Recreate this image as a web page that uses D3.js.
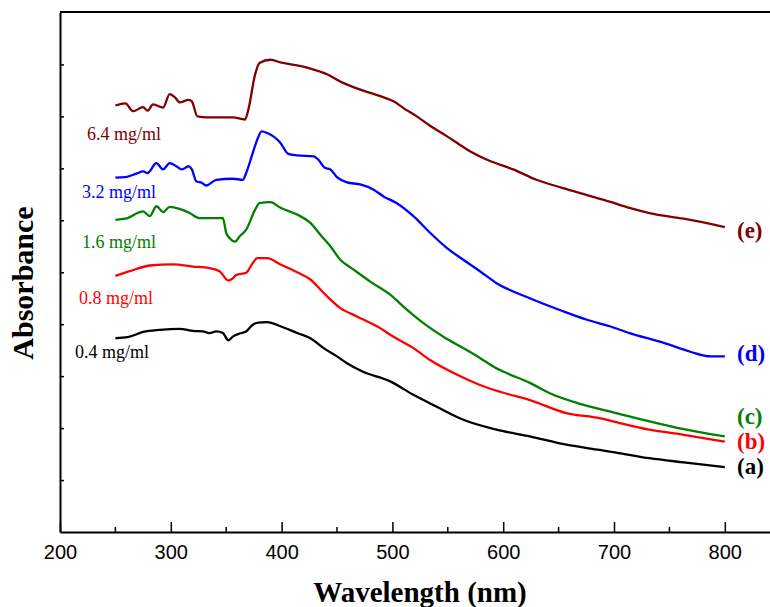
<!DOCTYPE html>
<html>
<head>
<meta charset="utf-8">
<script src="https://cdn.jsdelivr.net/npm/d3@7"></script>
<style>
  body { margin: 0; background: #fff; }
</style>
</head>
<body>
<div id="chart"></div>
<script>
// Data (absorbance in arbitrary units, curves offset as in the figure)
const waveA = [250,261,275,290,308,320,329,335,341,347,352,356,362,368,374,379,387,399,414,426,438,450,459,473,498,519,540,564,594,624,657,687,702,732,763,800]
const absA  = [3.73,3.75,3.85,3.89,3.91,3.87,3.86,3.83,3.86,3.83,3.69,3.76,3.82,3.86,3.99,4.03,4.04,3.96,3.83,3.73,3.54,3.38,3.25,3.09,2.90,2.64,2.41,2.16,1.97,1.84,1.68,1.58,1.53,1.42,1.34,1.25]

const waveB = [250,263,281,302,320,335,344,352,356,359,368,374,378,387,399,414,426,438,453,468,486,501,519,534,558,579,597,624,657,687,699,732,763,800]
const absB  = [4.93,5.02,5.13,5.15,5.11,5.08,5.02,4.84,4.88,4.95,4.99,5.18,5.27,5.27,5.15,5.00,4.86,4.60,4.31,4.15,3.96,3.76,3.54,3.31,3.03,2.83,2.70,2.54,2.29,2.19,2.13,1.97,1.87,1.74]

const waveC = [250,259,275,281,287,293,299,308,317,326,338,347,350,353,358,362,368,376,380,390,399,414,426,435,444,453,465,480,498,513,528,546,564,579,594,603,624,642,672,702,732,763,800]
const absC  = [6.01,6.03,6.17,6.08,6.27,6.16,6.26,6.22,6.14,6.04,6.04,6.04,5.76,5.66,5.59,5.69,5.82,6.20,6.33,6.35,6.24,6.11,5.95,5.72,5.50,5.24,5.05,4.82,4.57,4.28,4.02,3.76,3.54,3.35,3.15,3.06,2.87,2.67,2.45,2.29,2.13,1.98,1.84]

const waveD = [250,259,269,275,279,287,293,299,305,310,316,319,323,328,332,341,356,365,368,374,378,382,387,399,406,414,429,433,439,444,450,459,471,483,492,504,519,534,549,564,579,594,624,654,675,696,714,745,769,787,800]
const absD  = [6.82,6.83,6.90,6.94,6.91,7.10,6.98,7.10,7.04,6.98,7.04,6.98,6.75,6.72,6.67,6.78,6.80,6.78,6.91,7.30,7.55,7.71,7.68,7.49,7.28,7.25,7.23,7.17,7.01,6.98,6.83,6.73,6.69,6.59,6.46,6.33,6.08,5.76,5.47,5.24,5.02,4.79,4.50,4.25,4.09,3.96,3.83,3.64,3.47,3.38,3.38]

const waveE = [250,259,266,275,279,284,293,299,304,308,316,319,324,333,356,367,370,376,380,390,399,414,426,441,455,473,489,501,510,522,534,549,564,570,585,609,630,654,675,696,714,732,763,800]
const absE  = [8.21,8.25,8.10,8.18,8.11,8.23,8.17,8.43,8.36,8.27,8.32,8.29,8.00,7.98,7.98,7.94,8.13,8.80,9.03,9.09,9.04,8.98,8.92,8.81,8.65,8.50,8.39,8.29,8.16,8.00,7.82,7.62,7.41,7.33,7.17,6.98,6.78,6.62,6.49,6.36,6.24,6.14,6.03,5.87]

const seriesLetters = ["(a)", "(b)", "(c)", "(d)", "(e)"]
const concLabels = ["0.4 mg/ml", "0.8 mg/ml", "1.6 mg/ml", "3.2 mg/ml", "6.4 mg/ml"]
const seriesColors = ["#000000", "#ff0000", "#008000", "#0000ff", "#800000"]
const xTickValues = [200, 300, 400, 500, 600, 700, 800]
const xMinorValues = [250, 350, 450, 550, 650, 750, 850]
const yTickValues = [1, 2, 3, 4, 5, 6, 7, 8, 9]

async function draw() {
  const series = [
    { wave: waveA, abs: absA },
    { wave: waveB, abs: absB },
    { wave: waveC, abs: absC },
    { wave: waveD, abs: absD },
    { wave: waveE, abs: absE }
  ].map((s, i) => ({
    points: s.wave.map((w, j) => [w, s.abs[j]]),
    color: seriesColors[i],
    letter: seriesLetters[i],
    conc: concLabels[i]
  }))

  let dimensions = {
    width: 770,
    height: 607,
    left: 60,
    top: 12,
    bottom: 532,
    right: 780
  }

  const svg = d3.select('#chart')
    .append("svg")
    .attr("width", dimensions.width)
    .attr("height", dimensions.height)

  // Scales
  const xScale = d3.scaleLinear()
    .domain([200, 845])
    .range([dimensions.left, dimensions.left + 645 * 1.108])

  const yScale = d3.scaleLinear()
    .domain([0, 10])
    .range([dimensions.bottom, dimensions.top + 0.5])

  // Curves
  const line = d3.line()
    .x(d => xScale(d[0]))
    .y(d => yScale(d[1]))
    .curve(d3.curveMonotoneX)

  svg.append("g")
    .selectAll("path")
    .data(series)
    .join("path")
    .attr("d", d => line(d.points))
    .attr("fill", "none")
    .attr("stroke", d => d.color)
    .attr("stroke-width", 2.3)
    .attr("stroke-linejoin", "round")

  // Frame: top line
  svg.append("line")
    .attr("x1", dimensions.left)
    .attr("x2", dimensions.right)
    .attr("y1", dimensions.top)
    .attr("y2", dimensions.top)
    .attr("stroke", "#000")
    .attr("stroke-width", 2)

  // X axis (ticks pointing inward)
  const xAxis = d3.axisBottom(xScale)
    .tickValues(xTickValues)
    .tickSizeInner(-10)
    .tickSizeOuter(0)
    .tickPadding(13)
    .tickFormat(d3.format("d"))

  const xAxisGroup = svg.append("g")
    .attr("transform", `translate(0, ${dimensions.bottom})`)
    .call(xAxis)
  xAxisGroup.select(".domain")
    .attr("stroke-width", 2)
  xAxisGroup.selectAll(".tick line")
    .attr("stroke-width", 1.5)
  xAxisGroup.selectAll(".tick text")
    .attr("font-family", "'Liberation Sans', Arial, sans-serif")
    .attr("font-size", 20)
    .attr("fill", "#000")

  // minor x ticks
  svg.append("g")
    .selectAll("line")
    .data(xMinorValues)
    .join("line")
    .attr("x1", d => xScale(d))
    .attr("x2", d => xScale(d))
    .attr("y1", dimensions.bottom)
    .attr("y2", dimensions.bottom - 5)
    .attr("stroke", "#000")
    .attr("stroke-width", 1.5)

  // Y axis (no labels)
  const yAxis = d3.axisLeft(yScale)
    .tickValues(yTickValues)
    .tickSizeInner(-4)
    .tickSizeOuter(0)
    .tickFormat("")

  const yAxisGroup = svg.append("g")
    .attr("transform", `translate(${dimensions.left}, 0)`)
    .call(yAxis)
  yAxisGroup.select(".domain")
    .attr("stroke-width", 2)
  yAxisGroup.selectAll(".tick line")
    .attr("stroke-width", 1.5)

  // Axis titles
  svg.append("text")
    .attr("x", 420)
    .attr("y", 602)
    .attr("text-anchor", "middle")
    .attr("font-family", "'Liberation Serif', 'Times New Roman', serif")
    .attr("font-weight", "bold")
    .attr("font-size", 29)
    .text("Wavelength (nm)")

  svg.append("text")
    .attr("transform", "translate(33, 283) rotate(-90)")
    .attr("text-anchor", "middle")
    .attr("font-family", "'Liberation Serif', 'Times New Roman', serif")
    .attr("font-weight", "bold")
    .attr("font-size", 30)
    .text("Absorbance")

  // Concentration labels
  const concPos = [[75, 358], [79, 304], [82, 248], [82, 198], [87, 140]]
  svg.append("g")
    .selectAll("text")
    .data(series)
    .join("text")
    .attr("x", (d, i) => concPos[i][0])
    .attr("y", (d, i) => concPos[i][1])
    .attr("font-family", "'Liberation Serif', 'Times New Roman', serif")
    .attr("font-size", 18)
    .attr("fill", d => d.color)
    .text(d => d.conc)

  // Series letters at right
  const letterY = [474, 449, 424, 361, 238]
  svg.append("g")
    .selectAll("text")
    .data(series)
    .join("text")
    .attr("x", 737)
    .attr("y", (d, i) => letterY[i])
    .attr("font-family", "'Liberation Serif', 'Times New Roman', serif")
    .attr("font-weight", "bold")
    .attr("font-size", 23)
    .attr("fill", d => d.color)
    .text(d => d.letter)
}

draw()
</script>
</body>
</html>
